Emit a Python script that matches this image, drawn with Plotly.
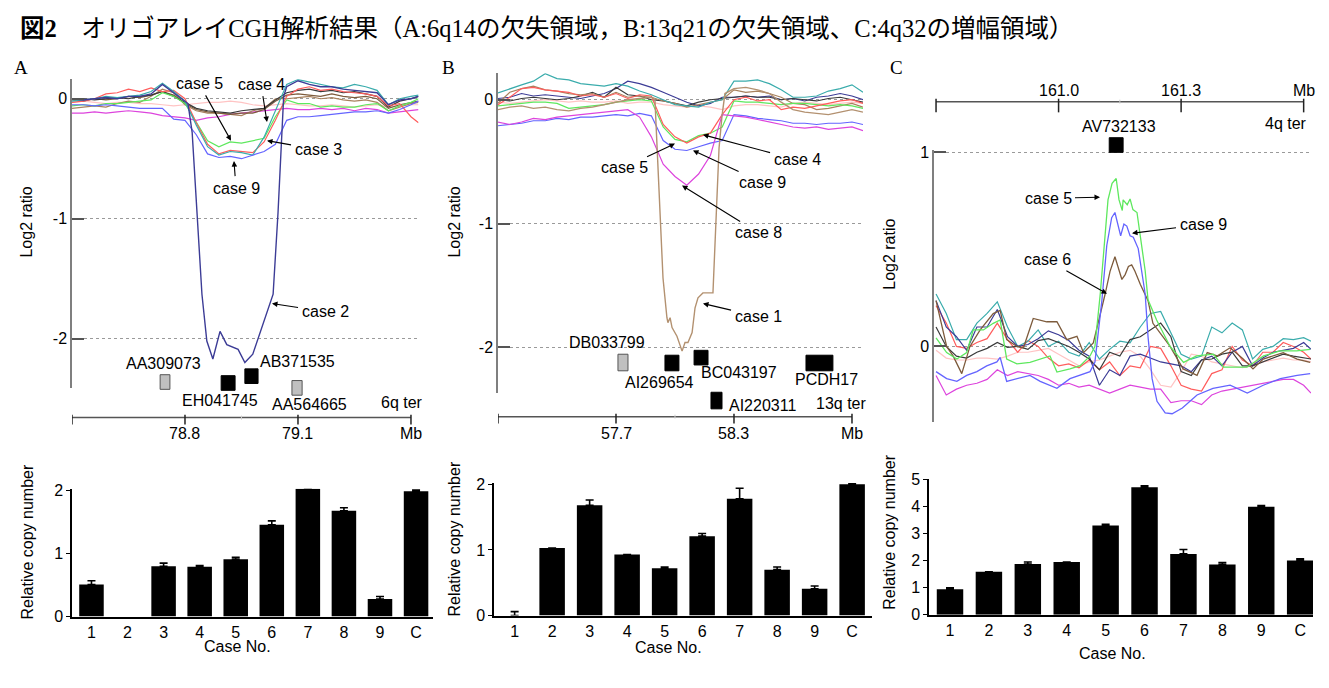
import plotly.graph_objects as go

W, H = 1329, 688
def fx(px): return px / W
def fy(py): return 1 - py / H

# ---------------- DATA ----------------
# Panel A (6q14), Mb positions and log2 ratios
A_X = [78.50, 78.53, 78.56, 78.59, 78.62, 78.65, 78.68, 78.71, 78.74, 78.77, 78.80, 78.83, 78.86, 78.89, 78.92, 78.95,
       78.98, 79.01, 79.04, 79.07, 79.10, 79.13, 79.16, 79.19, 79.22, 79.25, 79.28, 79.31, 79.34, 79.37, 79.40, 79.42]
A_RED = [-0.03, -0.02, 0.0, 0.04, 0.05, 0.08, 0.06, 0.09, 0.06, 0.07, 0.0, -0.2, -0.38, -0.46, -0.43, -0.44,
         -0.45, -0.36, -0.18, 0.02, 0.08, 0.1, 0.07, 0.08, 0.06, 0.05, 0.04, 0.02, -0.06, -0.04, -0.15, -0.2]
A_CYAN = [-0.02, -0.01, 0.0, 0.02, 0.01, 0.02, 0.03, 0.06, 0.13, 0.06, -0.02, -0.22, -0.4, -0.47, -0.44, -0.45,
          -0.47, -0.32, -0.1, 0.12, 0.16, 0.14, 0.12, 0.1, 0.09, 0.12, 0.1, 0.07, -0.05, 0.0, 0.02, 0.03]
A_GREEN = [-0.06, -0.05, -0.06, -0.04, -0.04, -0.03, -0.02, -0.01, 0.05, 0.02, -0.04, -0.2, -0.35, -0.4, -0.36, -0.37,
           -0.35, -0.33, -0.15, -0.01, -0.04, -0.04, -0.07, -0.06, -0.07, -0.07, -0.05, -0.04, -0.1, -0.06, -0.03, 0.0]
A_BLUE = [-0.05, -0.05, -0.06, -0.05, -0.06, -0.07, -0.08, -0.08, -0.08, -0.17, -0.18, -0.3, -0.46, -0.49, -0.48, -0.5,
          -0.47, -0.44, -0.38, -0.18, -0.15, -0.15, -0.14, -0.13, -0.12, -0.11, -0.11, -0.1, -0.12, -0.09, -0.05, -0.02]
A_MAGENTA = [-0.12, -0.12, -0.11, -0.12, -0.11, -0.1, -0.11, -0.12, -0.14, -0.15, -0.16, -0.18, -0.16, -0.15, -0.13, -0.12,
             -0.11, -0.1, -0.09, -0.08, -0.09, -0.09, -0.08, -0.09, -0.08, -0.1, -0.08, -0.09, -0.12, -0.11, -0.1, -0.09]
A_PINK = [-0.03, -0.02, -0.03, -0.04, -0.03, -0.03, -0.04, -0.04, -0.05, -0.06, -0.05, -0.04, -0.03, -0.03, -0.02, -0.03,
          -0.05, -0.06, -0.05, -0.04, -0.05, -0.06, -0.06, -0.05, -0.06, -0.07, -0.06, -0.05, -0.07, -0.06, -0.05, -0.05]
A_BROWN = [-0.08, -0.07, -0.06, -0.07, -0.04, -0.02, -0.03, 0.02, 0.08, 0.05, -0.05, -0.1, -0.12, -0.12, -0.13, -0.14,
           -0.1, -0.08, 0.0, 0.0, 0.01, 0.02, 0.0, 0.01, -0.01, -0.02, -0.01, -0.03, -0.1, -0.07, -0.04, -0.03]
A_DBROWN = [-0.01, -0.02, 0.0, -0.01, 0.0, 0.02, 0.01, 0.03, 0.06, 0.03, -0.04, -0.09, -0.11, -0.12, -0.13, -0.12,
            -0.12, -0.09, -0.02, 0.03, 0.04, 0.03, 0.02, 0.04, 0.02, 0.01, 0.02, 0.0, -0.08, -0.05, -0.03, -0.02]
A_BLACK = [0.0, 0.0, -0.01, 0.0, 0.01, 0.0, 0.02, 0.03, 0.06, 0.02, -0.03, -0.08, -0.1, -0.11, -0.12, -0.1,
           -0.09, -0.08, -0.01, 0.05, 0.07, 0.08, 0.06, 0.07, 0.05, 0.06, 0.04, 0.02, -0.07, -0.02, 0.0, 0.02]
A_CASE2_X = [78.50, 78.53, 78.56, 78.59, 78.62, 78.65, 78.68, 78.71, 78.74, 78.77, 78.80, 78.808, 78.819, 78.832,
             78.845, 78.858, 78.874, 78.893, 78.911, 78.941, 78.959, 78.980, 79.018, 79.034, 79.047, 79.057, 79.062,
             79.07, 79.10, 79.13, 79.16, 79.19, 79.22, 79.25, 79.28, 79.31, 79.34, 79.37, 79.40, 79.42]
A_CASE2_Y = [0.0, -0.01, 0.0, 0.01, 0.0, 0.02, 0.02, 0.04, 0.12, 0.05, -0.02, -0.04, -0.28, -0.95,
             -1.63, -2.02, -2.17, -1.94, -2.05, -2.09, -2.20, -2.13, -1.79, -1.63, -0.95, -0.28, 0.02,
             0.1, 0.15, 0.12, 0.1, 0.1, 0.08, 0.07, 0.06, 0.05, -0.05, -0.01, 0.0, 0.02]
A_GENES = ["AA309073", "EH041745", "AB371535", "AA564665"]
A_GENE_START = [78.734, 78.896, 78.959, 79.084]
A_GENE_END = [78.760, 78.933, 78.994, 79.111]
A_GENE_KIND = ["gray", "black", "black", "gray"]
A_SCALE_TICKS = [78.5, 78.8, 79.1, 79.4]
A_SCALE_LABELS = ["", "78.8", "79.1", "Mb"]

# Panel B (13q21)
B_X = [57.10, 57.16, 57.22, 57.28, 57.34, 57.40, 57.46, 57.52, 57.58, 57.64, 57.70, 57.76, 57.82, 57.88, 57.94, 58.00,
       58.06, 58.12, 58.18, 58.24, 58.30, 58.36, 58.42, 58.48, 58.54, 58.60, 58.66, 58.72, 58.78, 58.84, 58.90, 58.956]
B_CYAN = [0.055, 0.09, 0.12, 0.15, 0.21, 0.17, 0.16, 0.13, 0.12, 0.11, 0.13, 0.11, 0.07, 0.04, 0.0, -0.04,
          -0.05, -0.06, -0.02, 0.0, 0.15, 0.15, 0.16, 0.13, 0.08, 0.02, 0.02, 0.03, 0.07, 0.09, 0.12, 0.06]
B_RED = [-0.04, 0.02, 0.09, 0.1, 0.08, 0.07, 0.06, 0.03, 0.04, 0.02, 0.05, 0.01, 0.04, 0.03, -0.2, -0.3,
         -0.35, -0.3, -0.27, -0.12, 0.0, 0.02, -0.01, 0.0, -0.08, -0.06, -0.07, -0.05, -0.03, -0.01, 0.0, -0.03]
B_GREEN = [-0.05, -0.04, -0.03, -0.02, -0.02, -0.03, -0.07, -0.06, -0.05, -0.04, -0.02, -0.01, 0.0, -0.01, -0.22, -0.32,
           -0.34, -0.29, -0.27, -0.22, -0.01, -0.02, -0.02, -0.03, -0.04, -0.03, -0.03, -0.04, -0.05, -0.04, -0.05, -0.07]
B_BLUE = [-0.21, -0.2, -0.19, -0.17, -0.17, -0.15, -0.16, -0.14, -0.14, -0.13, -0.12, -0.13, -0.11, -0.13, -0.33, -0.4,
          -0.41, -0.38, -0.35, -0.33, -0.12, -0.13, -0.15, -0.16, -0.17, -0.19, -0.19, -0.2, -0.19, -0.19, -0.18, -0.2]
B_MAGENTA = [-0.18, -0.2, -0.18, -0.15, -0.16, -0.14, -0.13, -0.12, -0.11, -0.1, -0.09, -0.08, -0.14, -0.3, -0.52, -0.62,
             -0.69, -0.6, -0.45, -0.12, -0.13, -0.14, -0.16, -0.18, -0.2, -0.22, -0.23, -0.22, -0.24, -0.23, -0.22, -0.25]
B_DBROWN = [-0.03, 0.06, 0.09, 0.11, 0.08, 0.07, 0.05, 0.04, 0.05, 0.02, 0.06, 0.02, 0.03, 0.02, -0.01, -0.03,
            -0.06, -0.04, -0.02, 0.0, 0.08, 0.06, 0.07, 0.05, 0.02, -0.03, -0.04, -0.08, -0.07, -0.05, -0.03, -0.06]
B_NAVY = [0.01, 0.02, 0.05, 0.03, 0.04, 0.03, 0.02, 0.01, 0.03, 0.05, 0.09, 0.15, 0.13, 0.1, 0.06, 0.02,
          -0.02, -0.05, -0.03, 0.02, 0.02, 0.03, 0.02, 0.03, 0.0, 0.01, -0.01, 0.02, 0.03, 0.05, 0.03, 0.0]
B_BLACK = [0.0, -0.01, 0.01, 0.02, 0.01, 0.0, 0.01, 0.03, 0.06, 0.02, 0.1, 0.04, 0.03, 0.0, -0.01, -0.03,
           -0.05, -0.02, 0.0, 0.01, 0.02, 0.03, 0.02, 0.02, 0.0, 0.01, 0.0, -0.01, 0.01, 0.02, 0.0, -0.02]
B_PINK = [-0.02, -0.03, -0.02, -0.01, 0.0, -0.01, -0.02, -0.01, -0.02, -0.02, -0.01, -0.03, -0.02, -0.02, -0.04, -0.05,
          -0.06, -0.05, -0.06, -0.08, -0.05, -0.04, -0.04, -0.05, -0.06, -0.03, -0.02, -0.03, -0.04, -0.03, -0.02, -0.03]
B_CASE1_X = [57.10, 57.16, 57.22, 57.28, 57.34, 57.40, 57.46, 57.52, 57.58, 57.64, 57.70, 57.76, 57.82, 57.88, 57.898,
             57.909, 57.924, 57.939, 57.959, 57.964, 57.975, 57.985, 58.010, 58.036, 58.051, 58.066, 58.087, 58.102,
             58.117, 58.142, 58.193, 58.203, 58.214, 58.224, 58.239, 58.254, 58.30, 58.36, 58.42, 58.48, 58.54, 58.60,
             58.66, 58.72, 58.78, 58.84, 58.90, 58.956]
B_CASE1_Y = [-0.08, -0.06, -0.05, -0.07, -0.06, -0.08, -0.09, -0.07, -0.06, -0.04, -0.02, 0.0, 0.01, 0.02, 0.0,
             -0.39, -0.91, -1.44, -1.76, -1.80, -1.76, -1.84, -1.91, -2.03, -1.96, -1.96, -1.88, -1.68,
             -1.60, -1.56, -1.56, -1.17, -0.78, -0.39, -0.13, 0.05, 0.09, 0.1, 0.08, 0.05, -0.02, -0.08,
             -0.1, -0.11, -0.12, -0.1, -0.08, -0.1]
B_GENES = ["DB033799", "AI269654", "BC043197", "AI220311", "PCDH17"]
B_GENE_START = [57.710, 57.949, 58.097, 58.183, 58.666]
B_GENE_END = [57.761, 58.020, 58.168, 58.239, 58.803]
B_GENE_KIND = ["gray", "black", "black", "black", "black"]
B_SCALE_TICKS = [57.1, 57.7, 58.3, 58.9]
B_SCALE_LABELS = ["", "57.7", "58.3", "Mb"]

# Panel C (4q32)
C_X = [160.700, 160.725, 160.750, 160.775, 160.800, 160.825, 160.850, 160.875, 160.900, 160.925, 160.950, 160.975,
       161.000, 161.025, 161.050, 161.075, 161.100, 161.125, 161.150, 161.175, 161.200, 161.225, 161.250, 161.275,
       161.300, 161.325, 161.350, 161.375, 161.400, 161.425, 161.450, 161.475, 161.500, 161.525, 161.550, 161.575,
       161.600, 161.618]
C_CYAN = [0.27, 0.17, 0.035, 0.035, 0.12, 0.17, 0.23, 0.1, 0.0, 0.027, 0.085, 0.0, 0.027, -0.03, -0.05, 0.02,
          -0.065, -0.015, 0.027, 0.018, 0.1, 0.17, 0.18, 0.07, -0.04, -0.065, -0.05, 0.1, 0.07, 0.12, 0.085, -0.065,
          -0.015, 0.0, 0.04, 0.035, 0.045, 0.027]
C_NAVY = [0.236, 0.1, 0.05, -0.02, 0.1, 0.1, 0.19, 0.05, 0.0, 0.01, 0.04, 0.08, 0.06, 0.03, -0.02, -0.05,
          -0.2, -0.12, -0.15, -0.05, -0.04, -0.06, -0.08, -0.09, -0.1, -0.13, -0.07, -0.05, -0.1, -0.03, 0.0, -0.1,
          -0.06, -0.03, -0.02, -0.01, 0.02, -0.015]
C_RED = [0.21, 0.12, 0.0, -0.01, 0.02, 0.04, 0.12, 0.035, -0.03, 0.03, 0.0, -0.06, -0.1, -0.09, -0.11, -0.07,
         -0.12, -0.08, -0.15, -0.1, -0.11, 0.0, -0.01, -0.1, -0.2, -0.22, -0.23, -0.14, -0.12, 0.0, -0.07, -0.1,
         -0.03, -0.03, 0.02, 0.0, -0.03, -0.065]
C_BLACK = [0.1, 0.0, -0.05, -0.06, -0.03, -0.01, 0.02, -0.005, 0.0, -0.015, 0.03, 0.04, 0.02, 0.0, -0.03, -0.065,
           -0.12, -0.03, -0.05, 0.035, 0.05, 0.085, 0.12, 0.05, -0.13, -0.15, -0.07, -0.065, -0.04, -0.03, -0.1, -0.1,
           -0.08, -0.06, -0.04, -0.05, -0.06, -0.065]
C_PINK = [-0.02, -0.06, -0.07, -0.07, -0.06, -0.06, -0.065, -0.05, -0.03, -0.03, -0.02, -0.01, -0.04, -0.07, -0.1, -0.08,
          -0.07, -0.05, -0.03, -0.02, -0.05, -0.12, -0.2, -0.21, -0.13, -0.04, -0.05, -0.08, -0.09, -0.1, -0.11, -0.1,
          -0.08, -0.07, -0.06, -0.07, -0.07, -0.08]
C_MAGENTA = [-0.15, -0.25, -0.22, -0.2, -0.19, -0.17, -0.12, -0.15, -0.13, -0.14, -0.15, -0.17, -0.2, -0.19, -0.21, -0.2,
             -0.22, -0.24, -0.22, -0.2, -0.21, -0.22, -0.22, -0.29, -0.28, -0.28, -0.3, -0.25, -0.23, -0.22, -0.21, -0.2,
             -0.19, -0.18, -0.17, -0.17, -0.2, -0.24]
C_CASE5_X = [160.700, 160.726, 160.751, 160.775, 160.791, 160.816, 160.840, 160.857, 160.873, 160.898, 160.930, 160.955,
             160.979, 160.996, 161.028, 161.053, 161.077, 161.089, 161.102, 161.121, 161.131, 161.141, 161.148, 161.156,
             161.158, 161.168, 161.175, 161.182, 161.192, 161.200, 161.212, 161.219, 161.240, 161.273, 161.306, 161.338,
             161.379, 161.404, 161.461, 161.502, 161.542, 161.583, 161.616]
C_CASE5_Y = [0.044, -0.032, -0.065, -0.032, 0.085, 0.085, 0.119, 0.136, -0.065, -0.09, -0.082, -0.065,
             -0.049, -0.132, -0.116, -0.099, -0.049, 0.0, 0.27, 0.755, 0.84, 0.865, 0.755, 0.70,
             0.755, 0.73, 0.76, 0.705, 0.69, 0.57, 0.39, 0.24, 0.136, 0.0, -0.082, -0.049,
             -0.04, -0.107, -0.107, -0.049, -0.023, -0.023, -0.015]
C_CASE9_X = [160.700, 160.726, 160.751, 160.775, 160.800, 160.824, 160.849, 160.857, 160.873, 160.898, 160.930, 160.955,
             160.979, 160.996, 161.028, 161.053, 161.077, 161.089, 161.106, 161.118, 161.130, 161.138, 161.146, 161.152,
             161.160, 161.167, 161.175, 161.183, 161.195, 161.204, 161.212, 161.219, 161.229, 161.241, 161.261, 161.278,
             161.303, 161.339, 161.378, 161.420, 161.462, 161.501, 161.543, 161.584, 161.616]
C_CASE9_Y = [-0.13, -0.166, -0.18, -0.149, -0.13, -0.1, -0.08, -0.057, -0.18, -0.166, -0.149, -0.18,
             -0.2, -0.216, -0.166, -0.149, -0.13, -0.08, 0.236, 0.52, 0.663, 0.69, 0.62, 0.57,
             0.63, 0.62, 0.57, 0.563, 0.504, 0.39, 0.27, 0.05, -0.166, -0.283, -0.342, -0.347,
             -0.317, -0.25, -0.216, -0.2, -0.24, -0.2, -0.166, -0.149, -0.14]
C_CASE6_X = [160.700, 160.726, 160.742, 160.763, 160.783, 160.808, 160.840, 160.857, 160.873, 160.898, 160.914, 160.938,
             160.971, 160.996, 161.020, 161.045, 161.061, 161.085, 161.114, 161.126, 161.138, 161.149, 161.155, 161.163,
             161.171, 161.179, 161.187, 161.200, 161.212, 161.219, 161.231, 161.273, 161.305, 161.339, 161.364, 161.388,
             161.420, 161.452, 161.476, 161.501, 161.550, 161.584, 161.616]
C_CASE6_Y = [0.236, 0.0, -0.05, -0.14, 0.0, 0.085, 0.169, 0.186, 0.035, 0.0, -0.007, 0.144,
             0.127, 0.127, 0.035, 0.052, -0.032, 0.018, 0.27, 0.387, 0.462, 0.387, 0.345, 0.37,
             0.412, 0.42, 0.387, 0.32, 0.27, 0.236, 0.119, 0.0, -0.116, -0.149, -0.032, -0.049,
             -0.007, -0.065, -0.116, -0.065, -0.032, -0.065, -0.082]
C_GENES = ["AV732133"]
C_GENE_START = [161.124]
C_GENE_END = [161.158]
C_SCALE_TICKS = [160.7, 161.0, 161.3, 161.6]
C_SCALE_LABELS = ["", "161.0", "161.3", "Mb"]

# Bar charts: relative copy number (None = no visible error bar)
CASES = ["1", "2", "3", "4", "5", "6", "7", "8", "9", "C"]
BAR_A = [0.51, 0.0, 0.80, 0.79, 0.91, 1.46, 2.03, 1.68, 0.28, 1.99]
ERR_A = [0.06, None, 0.05, 0.02, 0.03, 0.06, None, 0.05, 0.04, 0.02]
BAR_B = [0.0, 1.03, 1.68, 0.93, 0.72, 1.21, 1.78, 0.70, 0.41, 2.00]
ERR_B = [0.06, None, 0.08, None, 0.02, 0.04, 0.16, 0.04, 0.04, 0.01]
BAR_C = [0.94, 1.58, 1.87, 1.94, 3.29, 4.70, 2.24, 1.85, 3.98, 2.00]
ERR_C = [0.05, None, 0.07, None, 0.04, 0.05, 0.16, 0.07, 0.04, 0.06]

# ---------------- STYLE ----------------
COL = dict(red="#ff5c5c", cyan="#3aacac", green="#5ee85e", blue="#6464ff", magenta="#dd44dd",
           pink="#ffc4c4", brown="#a8825e", dbrown="#7d5b3c", black="#3a3a3a", navy="#3c3c96", tan="#b39170")
FONT = "Liberation Sans, Arial, sans-serif"
fig = go.Figure()

def line(x, y, color, xa, ya, width=1.2):
    fig.add_trace(go.Scatter(x=x, y=y, mode="lines", line=dict(color=color, width=width),
                             xaxis=xa, yaxis=ya, showlegend=False, hoverinfo="skip"))

# Panel A traces
for ys, c in [(A_PINK, "pink"), (A_MAGENTA, "magenta"), (A_BROWN, "brown"), (A_DBROWN, "dbrown"), (A_BLACK, "black"),
              (A_GREEN, "green"), (A_RED, "red"), (A_CYAN, "cyan"), (A_BLUE, "blue")]:
    line(A_X, ys, COL[c], "x", "y")
line(A_CASE2_X, A_CASE2_Y, COL["navy"], "x", "y", 1.4)

# Panel B traces
for ys, c in [(B_PINK, "pink"), (B_NAVY, "navy"), (B_BLACK, "black"), (B_DBROWN, "brown"), (B_CYAN, "cyan"),
              (B_GREEN, "green"), (B_RED, "red"), (B_BLUE, "blue"), (B_MAGENTA, "magenta")]:
    line(B_X, ys, COL[c], "x2", "y2")
line(B_CASE1_X, B_CASE1_Y, COL["tan"], "x2", "y2", 1.4)

# Panel C traces
for ys, c in [(C_PINK, "pink"), (C_MAGENTA, "magenta"), (C_RED, "red"), (C_CYAN, "cyan"), (C_NAVY, "navy"),
              (C_BLACK, "black")]:
    line(C_X, ys, COL[c], "x3", "y3")
line(C_CASE6_X, C_CASE6_Y, COL["dbrown"], "x3", "y3", 1.3)
line(C_CASE5_X, C_CASE5_Y, COL["green"], "x3", "y3", 1.3)
line(C_CASE9_X, C_CASE9_Y, COL["blue"], "x3", "y3", 1.3)

# Bars (a zero bar without an error bar is simply not drawn)
for vals, errs, xa, ya in [(BAR_A, ERR_A, "x4", "y4"), (BAR_B, ERR_B, "x5", "y5"), (BAR_C, ERR_C, "x6", "y6")]:
    shown = [None if (v == 0 and e is None) else v for v, e in zip(vals, errs)]
    fig.add_trace(go.Bar(x=list(range(len(CASES))), y=shown, width=0.68, marker=dict(color="black", line=dict(width=0)),
                         error_y=dict(type="data", array=errs, arrayminus=[0] * len(errs), symmetric=False,
                                      color="black", thickness=1.6, width=4),
                         xaxis=xa, yaxis=ya, showlegend=False, hoverinfo="skip"))

# ---------------- AXES ----------------
def top_y(dom, rng, ticks):
    return dict(domain=[fy(dom[1]), fy(dom[0])], range=rng, tickvals=ticks, ticktext=[str(t) for t in ticks],
                showline=True, linecolor="#7f7f7f", linewidth=1.5, ticks="inside", ticklen=12, tickwidth=1.5,
                tickcolor="#555", showgrid=True, gridcolor="#9a9a9a", griddash="dot", gridwidth=1,
                zeroline=False, tickfont=dict(family=FONT, size=16, color="black"), fixedrange=True)

def top_x(dom, rng):
    return dict(domain=[fx(dom[0]), fx(dom[1])], range=rng, visible=False, fixedrange=True)

def bar_y(dom, rng, ticks):
    return dict(domain=[fy(dom[1]), fy(dom[0])], range=rng, tickvals=ticks, showline=True, linecolor="black",
                linewidth=1.5, ticks="outside", ticklen=4, tickcolor="black", showgrid=False, zeroline=False,
                tickfont=dict(family=FONT, size=16, color="black"), fixedrange=True)

def bar_x(dom, rng):
    return dict(domain=[fx(dom[0]), fx(dom[1])], range=rng, tickvals=list(range(len(CASES))), ticktext=CASES,
                showline=True, linecolor="black", linewidth=1.5, ticks="", showgrid=False, zeroline=False,
                tickfont=dict(family=FONT, size=16, color="black"), fixedrange=True)

fig.update_layout(
    width=W, height=H, margin=dict(l=0, r=0, t=0, b=0), paper_bgcolor="white", plot_bgcolor="white",
    xaxis=dict(top_x((72, 418.5), [78.5, 79.42]), anchor="y"),
    yaxis=dict(top_y((73, 390), [-2.415, 0.163], [0, -1, -2]), anchor="x"),
    xaxis2=dict(top_x((498, 863), [57.1, 58.956]), anchor="y2"),
    yaxis2=dict(top_y((67, 395), [-2.37, 0.213], [0, -1, -2]), anchor="x2"),
    xaxis3=dict(top_x((934, 1311), [160.695, 161.618]), anchor="y3"),
    yaxis3=dict(top_y((146, 425), [-0.392, 1.01], [0, 1]), anchor="x3"),
    xaxis4=dict(bar_x((72, 433), [-0.54, 9.47]), anchor="y4"),
    yaxis4=dict(bar_y((493, 624), [0, 2.03], [0, 1, 2]), anchor="x4"),
    xaxis5=dict(bar_x((494, 872), [-0.55, 9.53]), anchor="y5"),
    yaxis5=dict(bar_y((487, 623), [0, 2.02], [0, 1, 2]), anchor="x5"),
    xaxis6=dict(bar_x((929, 1313), [-0.54, 9.33]), anchor="y6"),
    yaxis6=dict(bar_y((483, 622), [0, 5.0], [0, 1, 2, 3, 4, 5]), anchor="x6"),
)

shapes = []
annots = []

def text(t, px, py, size=16, family=FONT, xanchor="center", angle=0, color="black"):
    annots.append(dict(text=t, x=fx(px), y=fy(py), xref="paper", yref="paper", showarrow=False,
                       xanchor=xanchor, yanchor="middle", textangle=angle,
                       font=dict(family=family, size=size, color=color)))

def arrow(t, lx, ly, tx, ty):
    annots.append(dict(text=t, x=fx(tx), y=fy(ty), xref="paper", yref="paper", showarrow=True,
                       ax=lx - tx, ay=ly - ty, axref="pixel", ayref="pixel", arrowhead=2, arrowsize=1,
                       arrowwidth=1.1, arrowcolor="black", standoff=0, startstandoff=2,
                       font=dict(family=FONT, size=16, color="black")))

def scale_bar(xref, ticks, labels, py, minor, tick_up, tick_down, label_py):
    shapes.append(dict(type="line", xref=xref, yref="paper", x0=ticks[0], x1=ticks[-1], y0=fy(py), y1=fy(py),
                       line=dict(color="#555", width=1.5)))
    for t in ticks:
        shapes.append(dict(type="line", xref=xref, yref="paper", x0=t, x1=t, y0=fy(py - tick_up),
                           y1=fy(py + tick_down), line=dict(color="#222", width=1.5)))
    shapes.append(dict(type="line", xref=xref, yref="paper", x0=minor, x1=minor, y0=fy(py - 2), y1=fy(py + 2),
                       line=dict(color="#ccc", width=1)))
    for t, lab in zip(ticks, labels):
        if lab:
            annots.append(dict(text=lab, x=t, y=fy(label_py), xref=xref, yref="paper", showarrow=False,
                               xanchor="center", yanchor="middle", font=dict(family=FONT, size=16, color="black")))

def genes(xref, starts, ends, kinds, rows):
    for s, e, k, (r0, r1) in zip(starts, ends, kinds, rows):
        shapes.append(dict(type="rect", xref=xref, yref="paper", x0=s, x1=e, y0=fy(r1), y1=fy(r0),
                           fillcolor="#c0c0c0" if k == "gray" else "black",
                           line=dict(color="#555" if k == "gray" else "black", width=1)))

# Panel A decorations
scale_bar("x", A_SCALE_TICKS, A_SCALE_LABELS, 420, 78.95, 3, 7, 436)
genes("x", A_GENE_START, A_GENE_END, A_GENE_KIND, [(376, 391), (377, 392), (370, 385), (382, 397)])
for g, (px, py) in zip(A_GENES, [(163, 365), (220, 402), (297, 362), (309, 407)]):
    text(g, px, py)
text("6q ter", 402, 404)
arrow("case 5", 199, 79, 231, 136)
arrow("case 4", 261, 79, 267, 117)
arrow("case 3", 318, 145, 267, 136)
arrow("case 9", 236, 184, 234, 157)
arrow("case 2", 325, 311, 272, 303)

# Panel B decorations
scale_bar("x2", B_SCALE_TICKS, B_SCALE_LABELS, 419, 58.0, 3, 7, 436)
genes("x2", B_GENE_START, B_GENE_END, B_GENE_KIND, [(355, 372), (356, 372), (351, 366), (394, 411), (356, 372)])
for g, (px, py) in zip(B_GENES, [(607, 343), (659, 384), (739, 374), (762, 408), (826, 381)]):
    text(g, px, py)
text("13q ter", 841, 406)
arrow("case 5", 624, 163, 675, 139)
arrow("case 4", 797, 155, 703, 130)
arrow("case 9", 762, 178, 693, 146)
arrow("case 8", 758, 229, 682, 182)
arrow("case 1", 758, 316, 703, 303)

# Panel C decorations
scale_bar("x3", C_SCALE_TICKS, C_SCALE_LABELS, 96, 161.15, 3, 11, 85)
genes("x3", C_GENE_START, C_GENE_END, ["black"], [(133, 148)])
text(C_GENES[0], 1119, 121)
text("4q ter", 1286, 118)
arrow("case 5", 1048, 195, 1100, 194)
arrow("case 9", 1203, 222, 1132, 231)
arrow("case 6", 1047, 259, 1107, 293)

# Axis titles
for px, py in [(27, 220), (455, 220), (890, 253)]:
    text("Log2 ratio", px, py, angle=-90)
for px, py in [(27, 548), (455, 545), (890, 538)]:
    text("Relative copy number", px, py, angle=-90)
for px, py in [(237, 655), (668, 656), (1112, 662)]:
    text("Case No.", px, py)

# Panel letters and title
for lab, px in [("A", 21), ("B", 448), ("C", 897)]:
    text(lab, px, 61, size=19, family="Liberation Serif, serif")
annots.append(dict(text="<b>図2</b>　オリゴアレイCGH解析結果（A:6q14の欠失領域，B:13q21の欠失領域、C:4q32の増幅領域）",
                   x=fx(18), y=fy(21), xref="paper", yref="paper", showarrow=False, xanchor="left",
                   yanchor="middle", font=dict(family="Liberation Serif, Noto Sans CJK JP, serif", size=24.5,
                                               color="black")))

fig.update_layout(shapes=shapes, annotations=annots)
fig.write_html("out.html")
